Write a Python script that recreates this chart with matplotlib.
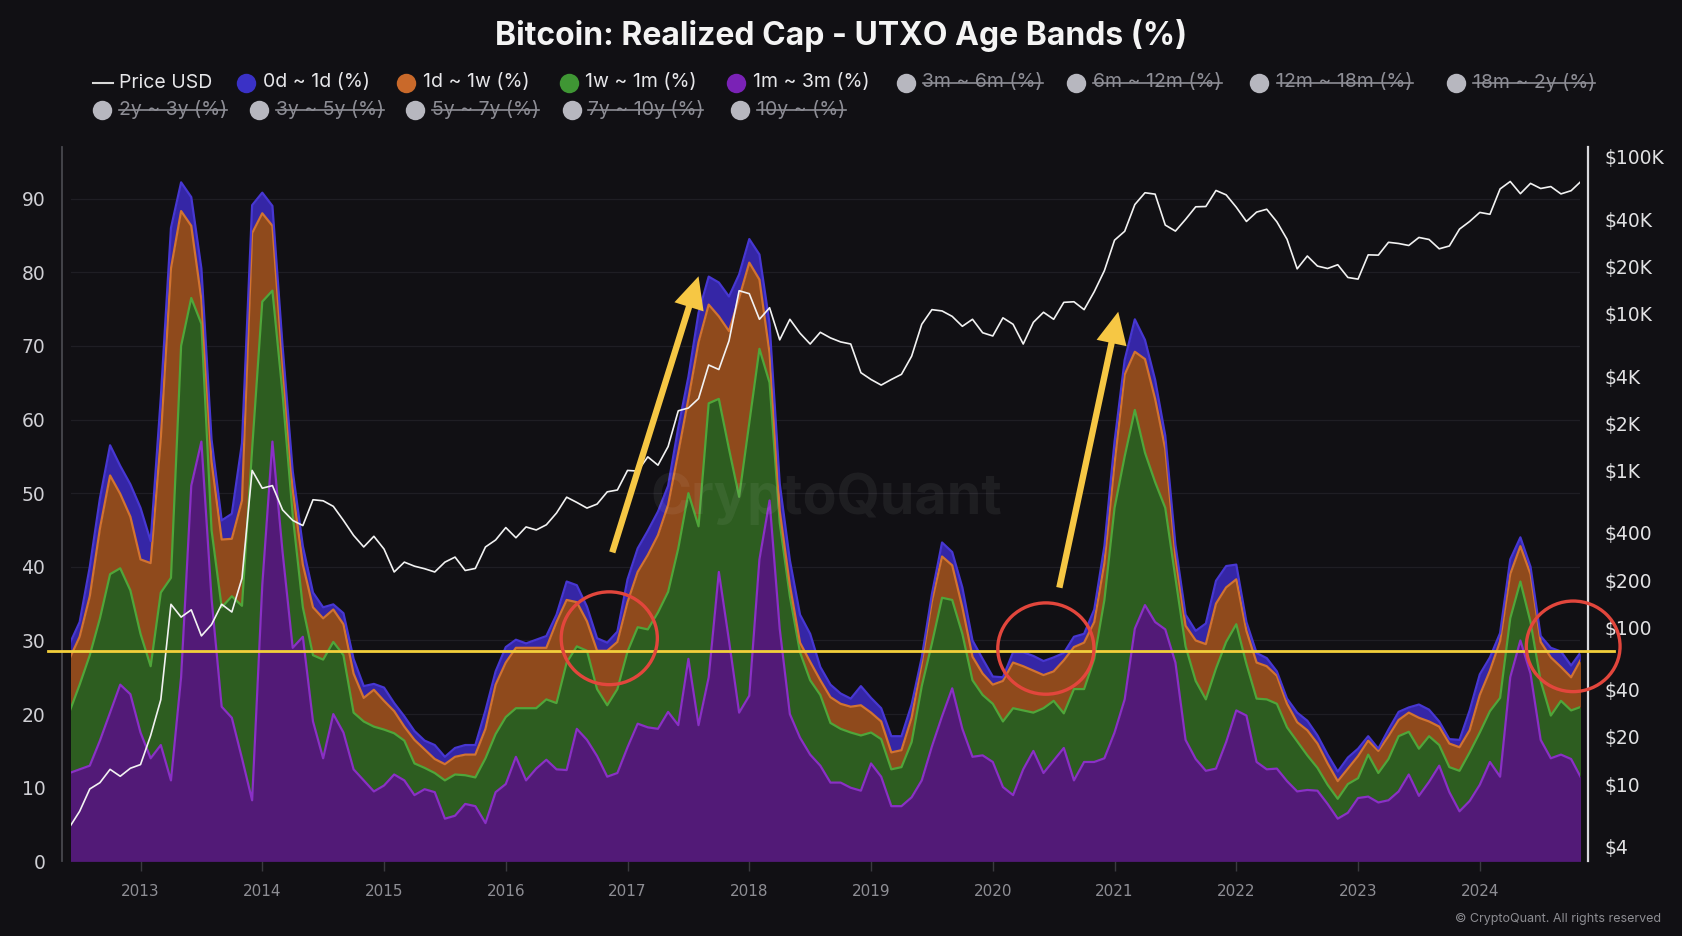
import numpy as np
import pandas as pd
import matplotlib
matplotlib.use("Agg")
import matplotlib.pyplot as plt
from matplotlib.lines import Line2D
from matplotlib.patches import Ellipse, FancyArrowPatch
from matplotlib.ticker import NullLocator
from matplotlib.transforms import IdentityTransform

# ---------------- data (monthly, Jun 2012 - Nov 2024) ----------------
dates = pd.date_range("2012-06-01", periods=150, freq="MS")

# cumulative stack levels (% of realized cap)
top_1m_3m = [12.0, 12.5, 13.0, 16.4, 20.2, 24.0, 22.7, 17.5, 14.0, 15.8,
             11.0, 25.0, 51.0, 57.0, 35.7, 21.0, 19.5, 14.0, 8.3, 37.5,
             57.0, 42.0, 29.0, 30.5, 19.0, 14.0, 20.0, 17.5, 12.5, 11.0,
             9.5, 10.3, 11.8, 11.0, 9.0, 9.8, 9.4, 5.8, 6.2, 7.8,
             7.5, 5.2, 9.4, 10.5, 14.2, 11.0, 12.6, 13.8, 12.5, 12.4,
             18.0, 16.5, 14.3, 11.5, 12.0, 15.5, 18.7, 18.2, 18.0, 20.3,
             18.5, 27.5, 18.5, 25.0, 39.3, 30.0, 20.2, 22.5, 41.0, 49.0,
             31.6, 20.0, 16.8, 14.5, 13.0, 10.7, 10.7, 10.0, 9.6, 13.3,
             11.5, 7.5, 7.5, 8.7, 11.0, 15.6, 19.7, 23.5, 18.0, 14.2,
             14.4, 13.5, 10.1, 9.0, 12.5, 15.0, 12.0, 13.7, 15.4, 11.0,
             13.5, 13.5, 14.0, 17.5, 22.0, 31.6, 34.8, 32.5, 31.5, 27.0,
             16.5, 13.9, 12.3, 12.6, 16.2, 20.5, 19.8, 13.5, 12.5, 12.6,
             10.9, 9.5, 9.7, 9.6, 7.8, 5.8, 6.6, 8.6, 8.8, 8.0,
             8.3, 9.5, 11.8, 8.9, 10.8, 13.0, 9.4, 6.8, 8.2, 10.4,
             13.5, 11.5, 25.0, 30.0, 25.5, 16.5, 14.0, 14.5, 13.9, 11.3]

top_1w_1m = [20.3, 24.0, 28.0, 33.0, 39.0, 39.8, 36.8, 30.9, 26.5, 36.5,
             38.5, 70.0, 76.5, 73.0, 45.0, 34.5, 36.0, 34.7, 56.0, 76.0,
             77.5, 63.5, 47.0, 34.5, 28.0, 27.4, 29.8, 28.0, 20.2, 19.0,
             18.3, 17.9, 17.4, 16.4, 13.3, 12.7, 12.0, 11.0, 11.8, 11.7,
             11.4, 14.0, 17.3, 19.6, 20.8, 20.8, 20.8, 22.0, 21.5, 27.0,
             29.2, 28.6, 23.4, 21.2, 23.4, 28.5, 31.8, 31.5, 33.8, 36.6,
             42.5, 50.0, 45.5, 62.2, 62.8, 56.0, 49.5, 59.5, 69.6, 65.0,
             46.0, 36.0, 28.4, 24.6, 22.6, 18.8, 18.0, 17.5, 17.1, 17.5,
             16.6, 12.5, 12.8, 16.2, 23.8, 29.6, 35.8, 35.5, 30.9, 24.6,
             22.6, 21.4, 19.0, 20.8, 20.5, 20.2, 20.8, 21.8, 20.1, 23.4,
             23.4, 27.5, 35.5, 48.0, 55.0, 61.3, 55.5, 51.5, 48.0, 38.5,
             29.2, 24.5, 22.0, 26.2, 29.8, 32.2, 26.8, 22.1, 22.0, 21.4,
             18.2, 16.3, 14.4, 12.7, 10.4, 8.5, 10.5, 11.3, 14.5, 12.0,
             13.9, 17.0, 17.6, 15.3, 17.0, 15.8, 12.8, 12.3, 14.8, 17.5,
             20.4, 22.2, 33.0, 38.0, 32.5, 24.5, 19.8, 21.8, 20.5, 21.0]

top_1d_1w = [27.5, 30.5, 36.0, 45.2, 52.4, 49.9, 46.8, 41.0, 40.5, 57.5,
             80.5, 88.3, 86.3, 76.3, 54.3, 43.7, 43.8, 49.0, 85.3, 88.0,
             86.3, 67.5, 50.5, 40.3, 34.5, 33.0, 34.2, 32.2, 25.5, 22.2,
             23.3, 21.8, 20.4, 18.3, 16.5, 15.2, 13.9, 13.2, 14.2, 14.5,
             14.5, 18.0, 24.0, 27.0, 29.0, 29.0, 29.0, 29.0, 32.5, 35.5,
             35.2, 32.6, 28.6, 28.6, 29.8, 35.2, 39.3, 41.6, 44.3, 48.4,
             55.5, 62.8, 70.5, 75.6, 74.0, 72.0, 76.5, 81.3, 79.0, 69.0,
             47.6, 37.5, 29.7, 27.1, 24.6, 22.3, 21.4, 21.0, 21.2, 20.2,
             19.0, 14.8, 15.1, 19.5, 26.9, 35.3, 41.4, 40.2, 34.5, 27.8,
             25.5, 24.0, 24.5, 27.0, 26.5, 25.9, 25.3, 25.8, 27.3, 29.1,
             29.7, 32.5, 40.5, 54.0, 66.1, 69.2, 68.2, 62.8, 56.0, 41.5,
             32.0, 30.0, 29.5, 35.0, 37.2, 38.3, 31.3, 27.0, 26.5, 25.2,
             21.4, 18.9, 17.8, 16.0, 13.3, 10.9, 12.6, 14.3, 16.4, 15.0,
             17.0, 19.2, 20.2, 19.5, 19.0, 18.3, 16.0, 15.5, 17.8, 22.6,
             25.9, 29.9, 39.0, 42.8, 39.0, 29.8, 27.7, 26.4, 25.0, 27.5]

top_0d_1d = [29.5, 32.5, 40.0, 49.3, 56.5, 53.7, 51.2, 48.0, 43.5, 63.0,
             86.0, 92.2, 90.2, 80.5, 57.3, 46.3, 47.2, 56.8, 89.1, 90.8,
             89.0, 70.0, 53.0, 42.8, 36.5, 34.5, 34.9, 33.7, 27.5, 23.8,
             24.1, 23.6, 21.5, 19.7, 17.7, 16.4, 15.8, 14.2, 15.4, 15.8,
             15.8, 20.5, 25.8, 29.1, 30.1, 29.6, 30.1, 30.6, 33.5, 38.0,
             37.5, 34.6, 30.3, 29.7, 31.2, 38.3, 42.5, 44.9, 47.5, 51.0,
             58.9, 65.8, 74.5, 79.4, 78.6, 76.7, 79.7, 84.5, 82.4, 73.0,
             51.3, 40.9, 33.5, 30.9, 26.4, 24.0, 22.8, 22.1, 23.8, 22.2,
             20.8, 17.0, 17.0, 21.3, 27.7, 36.3, 43.3, 42.0, 37.2, 30.0,
             27.5, 25.1, 25.0, 28.4, 28.4, 27.9, 27.2, 27.7, 28.3, 30.5,
             30.9, 34.2, 42.8, 57.0, 68.1, 73.6, 70.8, 65.4, 57.8, 43.0,
             33.5, 31.3, 32.3, 38.1, 40.1, 40.3, 32.5, 28.3, 27.6, 25.8,
             22.1, 20.2, 19.1, 17.1, 14.5, 12.2, 14.1, 15.3, 17.0, 15.3,
             17.9, 20.3, 20.9, 21.3, 20.6, 19.0, 16.6, 16.5, 20.5, 25.4,
             27.7, 31.0, 41.0, 44.0, 40.0, 30.6, 29.0, 28.5, 26.6, 28.5]

price_usd = [5.3, 6.7, 9.3, 10.2, 12.4, 11.2, 12.6,
             13.3, 20.4, 34.5, 140, 116, 129, 88, 104, 140, 125, 205, 1000,
             770, 800, 560, 480, 445, 650, 640, 590, 480, 385, 325, 380,
             315, 225, 260, 245, 236, 225, 260, 280, 230, 237, 325, 360,
             432, 372, 436, 417, 450, 535, 675, 625, 575, 610, 730, 750,
             1000, 990, 1220, 1080, 1420, 2400, 2500, 2870, 4700, 4400, 6700, 14000,
             13400, 9200, 10900, 6800, 9200, 7500, 6400, 7600, 7000, 6600, 6400, 4200,
             3800, 3500, 3800, 4100, 5350, 8550, 10600, 10400, 9600, 8300, 9200, 7550,
             7200, 9400, 8550, 6400, 8800, 10200, 9200, 11800, 11900, 10600, 13800, 18800,
             29400, 33500, 49600, 59000, 57800, 36700, 33600, 39900, 48000, 48200, 61000, 57200,
             47700, 38700, 44400, 46300, 38500, 29800, 19300, 23300, 20100, 19400, 20500, 17000,
             16600, 23700, 23600, 28500, 28000, 27200, 30600, 29700, 25900, 27000, 34600, 38700,
             44200, 43000, 62400, 69600, 58200, 67700, 62800, 64600, 58000, 60800, 70000]

year_ticks = list(range(2013, 2025))
pct_ticks = list(range(0, 91, 10))
price_ticks = [4, 10, 20, 40, 100, 200, 400, 1000, 2000, 4000, 10000, 20000, 40000, 100000]
price_tick_labels = ["$4", "$10", "$20", "$40", "$100", "$200", "$400", "$1K", "$2K",
                     "$4K", "$10K", "$20K", "$40K", "$100K"]

# ---------------- style ----------------
BG = "#111014"
W, H = 1682, 936
x = np.asarray(dates.year + (dates.month - 1) / 12.0, dtype=float)

fig = plt.figure(figsize=(W / 100, H / 100), dpi=100, facecolor=BG)
ax = fig.add_axes([71 / W, 1 - 861.4 / H, (1580 - 71) / W, (861.4 - 147) / H])
ax.set_facecolor(BG)

levels = [np.zeros(len(x)), np.array(top_1m_3m), np.array(top_1w_1m),
          np.array(top_1d_1w), np.array(top_0d_1d)]
fills = ["#521a77", "#2d5d20", "#8f4a1c", "#3526a6"]
edges = ["#8a30c6", "#4fa63a", "#d27330", "#4737d2"]
for k in range(4):
    ax.fill_between(x, levels[k], levels[k + 1], color=fills[k], lw=0, zorder=2)
    ax.plot(x, levels[k + 1], color=edges[k], lw=1.6, zorder=3)

ax.set_xlim(2012.429, 2024.823)
ax.set_ylim(0, 97)
ax.set_yticks(pct_ticks)
ax.set_yticklabels([str(t) for t in pct_ticks])
ax.set_xticks(year_ticks)
ax.set_xticklabels([str(t) for t in year_ticks])
ax.grid(axis="y", color="#1f1e24", lw=0.9)
ax.set_axisbelow(True)
for s in ["top", "right", "bottom"]:
    ax.spines[s].set_visible(False)
ax.spines["left"].set_position(("outward", 6.5))
ax.spines["left"].set_color("#48484e")
ax.spines["left"].set_linewidth(1.3)
ax.tick_params(axis="y", length=0, pad=12, labelsize=13.5, labelcolor="#cfcfd4")
ax.tick_params(axis="x", length=7, width=1, color="#3a3a40", pad=9,
               labelsize=11, labelcolor="#8e8e94")

ax2 = ax.twinx()
ax2.set_yscale("log")
ax2.plot(x, price_usd, color="#f2f2f2", lw=1.2, zorder=4)
ax2.set_ylim(3.209, 115500)
ax2.set_yticks(price_ticks)
ax2.set_yticklabels([t.replace("$", "\\$") for t in price_tick_labels])
ax2.yaxis.set_minor_locator(NullLocator())
for s in ["top", "left", "bottom"]:
    ax2.spines[s].set_visible(False)
ax2.spines["right"].set_position(("outward", 5.8))
ax2.spines["right"].set_color("#d8d8dc")
ax2.spines["right"].set_linewidth(1.6)
ax2.tick_params(axis="y", length=0, pad=12, labelsize=13.5, labelcolor="#e2e2e4")

# ---------------- watermark ----------------
fig.text(826 / W, 1 - 499 / H, "CryptoQuant", ha="center", va="center",
         fontsize=40, fontweight="bold", family="Inter", color="white", alpha=0.06, zorder=3)

# ---------------- annotations ----------------
fig.add_artist(Line2D([2012.24, 2025.10], [28.5, 28.5], transform=ax.transData,
                      color="#f3cf3b", lw=2.0, zorder=5))
for (x0, y0, x1, y1) in [(2016.868, 41.6, 2017.590, 79.8), (2020.542, 36.8, 2021.035, 75.0)]:
    fig.add_artist(FancyArrowPatch((x0, y0), (x1, y1), transform=ax.transData,
                                   arrowstyle="simple,head_length=2.3,head_width=2.2,tail_width=0.46",
                                   mutation_scale=10, color="#f6c744", lw=0, zorder=6))
for (cx, cy, w, h) in [(2016.85, 30.3, 0.79, 12.6), (2020.436, 28.9, 0.79, 12.4),
                       (2024.767, 29.2, 0.77, 12.3)]:
    fig.add_artist(Ellipse((cx, cy), w, h, transform=ax.transData, fill=False,
                           edgecolor="#e2463c", lw=2.4, zorder=6))

# ---------------- title ----------------
fig.text(0.5, 1 - 36 / H, "Bitcoin: Realized Cap - UTXO Age Bands (%)", ha="center",
         va="center", fontsize=23, fontweight="bold", family="Inter", color="#f4f4f4")

# ---------------- legend ----------------
ACTIVE = "#e6e6e9"
INACTIVE = "#8d8d95"
row_y = [1 - 82.5 / H, 1 - 109.5 / H]
fig.add_artist(Line2D([93 / W, 113 / W], [row_y[0], row_y[0]], transform=fig.transFigure,
                      color="#d8d8d8", lw=1.5))
fig.text(119 / W, row_y[0], "Price USD", ha="left", va="center", fontsize=14,
         family="Inter", color=ACTIVE)

legend_items = [
    ("0d ~ 1d (%)", "#3a31c6", True, 245.6, 262.8, 0),
    ("1d ~ 1w (%)", "#c9692a", True, 405.5, 422.6, 0),
    ("1w ~ 1m (%)", "#3f9634", True, 568.5, 584.6, 0),
    ("1m ~ 3m (%)", "#7a22b6", True, 735.9, 753.0, 0),
    ("3m ~ 6m (%)", "#b7b7bf", False, 906.4, 922.5, 0),
    ("6m ~ 12m (%)", "#b7b7bf", False, 1075.9, 1093.1, 0),
    ("12m ~ 18m (%)", "#b7b7bf", False, 1259.3, 1276.5, 0),
    ("18m ~ 2y (%)", "#b7b7bf", False, 1455.7, 1472.8, 0),
    ("2y ~ 3y (%)", "#b7b7bf", False, 101.9, 119.0, 1),
    ("3y ~ 5y (%)", "#b7b7bf", False, 258.5, 275.7, 1),
    ("5y ~ 7y (%)", "#b7b7bf", False, 415.1, 432.3, 1),
    ("7y ~ 10y (%)", "#b7b7bf", False, 571.8, 587.8, 1),
    ("10y ~ (%)", "#b7b7bf", False, 740.2, 757.3, 1),
]
struck = []
for label, col, active, cx, tx, row in legend_items:
    fig.add_artist(Line2D([cx / W], [row_y[row]], transform=fig.transFigure, marker="o",
                          markersize=14, markerfacecolor=col, markeredgewidth=0,
                          linestyle=""))
    t = fig.text(tx / W, row_y[row], label, ha="left", va="center", fontsize=14,
                 family="Inter", color=ACTIVE if active else INACTIVE)
    if not active:
        struck.append(t)

fig.text(1661 / W, 1 - 919 / H, "© CryptoQuant. All rights reserved", ha="right",
         va="center", fontsize=9, family="Inter", color="#8d8d92")

fig.canvas.draw()
renderer = fig.canvas.get_renderer()
for t in struck:
    bb = t.get_window_extent(renderer)
    ym = bb.y0 + 0.5 * (bb.y1 - bb.y0)
    fig.add_artist(Line2D([bb.x0, bb.x1], [ym, ym], transform=IdentityTransform(),
                          color=INACTIVE, lw=1.2))

fig.savefig("out.png", dpi=100, facecolor=BG)
